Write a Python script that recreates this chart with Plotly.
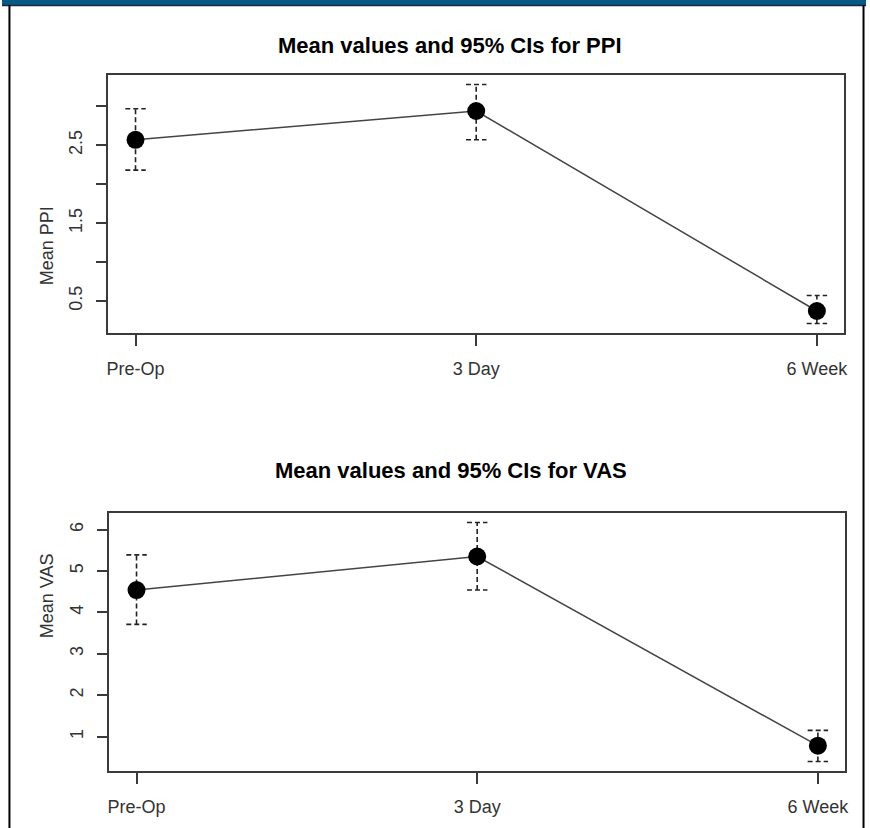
import plotly.graph_objects as go

# ---- data ----
categories = ["Pre-Op", "3 Day", "6 Week"]
x_pos = [1, 2, 3]

ppi_mean = [2.57, 2.94, 0.37]
ppi_lo = [2.18, 2.57, 0.21]
ppi_hi = [2.97, 3.28, 0.57]
ppi_ticks = [0.5, 1.0, 1.5, 2.0, 2.5, 3.0]
ppi_ticktext = ["0.5", "", "1.5", "", "2.5", ""]

vas_mean = [4.54, 5.35, 0.78]
vas_lo = [3.71, 4.54, 0.40]
vas_hi = [5.39, 6.17, 1.15]
vas_ticks = [1, 2, 3, 4, 5, 6]
vas_ticktext = ["1", "2", "3", "4", "5", "6"]

title_ppi = "Mean values and 95% CIs for PPI"
title_vas = "Mean values and 95% CIs for VAS"
ylab_ppi = "Mean PPI"
ylab_vas = "Mean VAS"

# ---- style ----
W, H = 870, 828
cap = 0.03
line_col = "#3a3a3a"
txt_col = "#333333"
font_fam = "Liberation Sans, Arial, sans-serif"

fig = go.Figure()


def add_panel(mean, lo, hi, xa, ya):
    fig.add_trace(go.Scatter(
        x=x_pos, y=mean, mode="lines", xaxis=xa, yaxis=ya,
        line=dict(color="#444444", width=1.5), showlegend=False, hoverinfo="skip"))
    vx, vy, cx, cy = [], [], [], []
    for xi, l, h in zip(x_pos, lo, hi):
        vx += [xi, xi, None]
        vy += [l, h, None]
        cx += [xi - cap, xi + cap, None, xi - cap, xi + cap, None]
        cy += [l, l, None, h, h, None]
    fig.add_trace(go.Scatter(
        x=vx, y=vy, mode="lines", xaxis=xa, yaxis=ya,
        line=dict(color="#222222", width=1.6, dash="5px,3px"),
        showlegend=False, hoverinfo="skip"))
    fig.add_trace(go.Scatter(
        x=cx, y=cy, mode="lines", xaxis=xa, yaxis=ya,
        line=dict(color="#222222", width=1.6, dash="5px,3px"),
        showlegend=False, hoverinfo="skip"))
    fig.add_trace(go.Scatter(
        x=x_pos, y=mean, mode="markers", xaxis=xa, yaxis=ya,
        marker=dict(color="black", size=18), showlegend=False))


add_panel(ppi_mean, ppi_lo, ppi_hi, "x", "y")
add_panel(vas_mean, vas_lo, vas_hi, "x2", "y2")


def pad(lo, hi):
    r = hi - lo
    return [lo - 0.04 * r, hi + 0.04 * r]


ppi_range = pad(min(ppi_lo), max(ppi_hi))
vas_range = pad(min(vas_lo), max(vas_hi))

axis_common = dict(showline=True, linecolor=line_col, linewidth=1.5, mirror=True,
                   ticks="outside", ticklen=11, tickwidth=1.5, tickcolor=line_col,
                   showgrid=False, zeroline=False,
                   tickfont=dict(family=font_fam, size=18, color=txt_col))

fig.update_layout(
    width=W, height=H, margin=dict(l=0, r=0, t=0, b=0),
    paper_bgcolor="white", plot_bgcolor="white",
    xaxis=dict(domain=[107 / W, 848 / W], range=[0.92, 3.08], anchor="y",
               tickvals=x_pos, ticktext=categories, ticklabelstandoff=8, **axis_common),
    yaxis=dict(domain=[1 - 333 / H, 1 - 75 / H], range=ppi_range, anchor="x",
               tickvals=ppi_ticks, ticktext=ppi_ticktext, tickangle=-90,
               ticklabelstandoff=6, **axis_common),
    xaxis2=dict(domain=[108 / W, 849 / W], range=[0.92, 3.08], anchor="y2",
                tickvals=x_pos, ticktext=categories, ticklabelstandoff=8, **axis_common),
    yaxis2=dict(domain=[1 - 771 / H, 1 - 513 / H], range=vas_range, anchor="x2",
                tickvals=vas_ticks, ticktext=vas_ticktext, tickangle=-90,
                ticklabelstandoff=6, **axis_common),
)

ann_font = dict(family=font_fam, size=18, color=txt_col)
title_font = dict(family=font_fam, size=22, color="black")
fig.add_annotation(text="<b>" + title_ppi + "</b>", x=451 / W, y=1 - 31 / H,
                   xref="paper", yref="paper", showarrow=False, font=title_font)
fig.add_annotation(text="<b>" + title_vas + "</b>", x=452 / W, y=1 - 470 / H,
                   xref="paper", yref="paper", showarrow=False, font=title_font)
fig.add_annotation(text=ylab_ppi, x=33 / W, y=1 - 204 / H, textangle=-90,
                   xref="paper", yref="paper", showarrow=False, font=ann_font)
fig.add_annotation(text=ylab_vas, x=33 / W, y=1 - 640 / H, textangle=-90,
                   xref="paper", yref="paper", showarrow=False, font=ann_font)

# frame: blue top band and black side lines
fig.add_shape(type="rect", xref="paper", yref="paper", x0=0, x1=1,
              y0=1 - 5 / H, y1=1, fillcolor="#075a86", line=dict(width=0), layer="above")
fig.add_shape(type="line", xref="paper", yref="paper", x0=0, x1=1,
              y0=1 - 5.5 / H, y1=1 - 5.5 / H, line=dict(color="#1a2a3a", width=1.5))
fig.add_shape(type="line", xref="paper", yref="paper", x0=7.5 / W, x1=7.5 / W,
              y0=0, y1=1 - 5 / H, line=dict(color="black", width=2))
fig.add_shape(type="line", xref="paper", yref="paper", x0=867.5 / W, x1=867.5 / W,
              y0=0, y1=1 - 5 / H, line=dict(color="black", width=2))

fig.write_html("out.html", config={"displayModeBar": False},
               post_script="document.body.style.margin='0';document.body.style.overflow='hidden';")
